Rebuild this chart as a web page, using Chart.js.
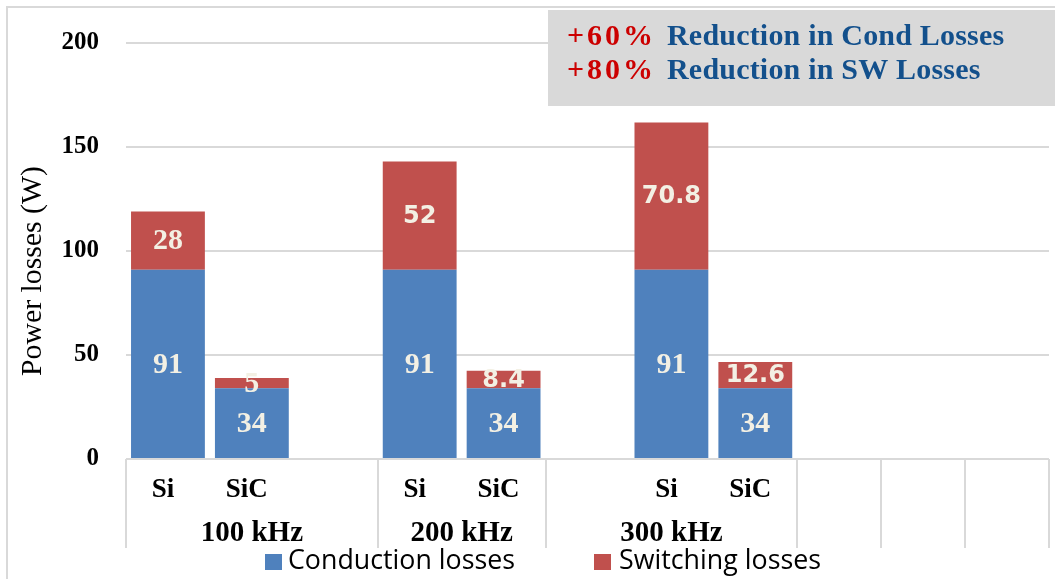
<!DOCTYPE html>
<html>
<head>
<meta charset="utf-8">
<title>Power losses: Si vs SiC</title>
<script src="https://cdn.jsdelivr.net/npm/chart.js@4.4.1/dist/chart.umd.min.js"></script>
<style>
  html, body { margin: 0; padding: 0; background: #ffffff; }
  #wrap { width: 1055px; height: 579px; position: relative; }
</style>
</head>
<body>
<div id="wrap"><canvas id="chart" width="1055" height="579"></canvas></div>
<script>
// Device labels on the inner axis level (empty strings are spacer slots)
const subLabels = ['Si', 'SiC', '', 'Si', 'SiC', '', 'Si', 'SiC', '', '', ''];
// Outer axis level: switching frequency groups and how many slots each spans
const groupLabels = ['100 kHz', '200 kHz', '300 kHz', '', '', ''];
const groupSizes = [3, 2, 3, 1, 1, 1];

const seriesNames = ['Conduction losses', 'Switching losses'];
const conduction = [91, 34, null, 91, 34, null, 91, 34, null, null, null];
const switching  = [28, 5, null, 52, 8.4, null, 70.8, 12.6, null, null, null];

const yTicks = [0, 50, 100, 150, 200];
const yTitle = 'Power losses (W)';

const notes = [
  ['+60%', 'Reduction in Cond Losses'],
  ['+80%', 'Reduction in SW Losses']
];

const COLORS = { cond: '#4f81bd', sw: '#c0504d', grid: '#d9d9d9' };

// Extra drawing: frame, value labels, two-level axis dividers, titles, legend, note box
const decor = {
  id: 'decor',
  beforeDraw(chart) {
    const c = chart.ctx;
    c.save();
    c.strokeStyle = COLORS.grid;
    c.lineWidth = 2;
    c.beginPath();
    c.moveTo(7, 579);
    c.lineTo(7, 7);
    c.lineTo(1055, 7);
    c.stroke();
    c.restore();
  },
  afterDatasetsDraw(chart) {
    const c = chart.ctx;
    c.save();
    c.fillStyle = '#f3f0e4';
    c.textAlign = 'center';
    c.textBaseline = 'middle';
    chart.data.datasets.forEach((ds, di) => {
      const meta = chart.getDatasetMeta(di);
      meta.data.forEach((bar, i) => {
        const v = ds.data[i];
        if (v == null) return;
        const serif = di === 0 || (Number.isInteger(v) && v < 50);
        c.font = serif ? 'bold 30px "Liberation Serif"' : 'bold 24px "DejaVu Sans"';
        c.fillText(String(v), bar.x, (bar.y + bar.base) / 2 + 1);
      });
    });
    c.restore();
  },
  afterDraw(chart) {
    const c = chart.ctx;
    const x = chart.scales.x;
    const area = chart.chartArea;
    c.save();

    // slot boundaries of the outer axis level
    const edges = [0];
    groupSizes.forEach(n => edges.push(edges[edges.length - 1] + n));
    const px = e => x.getPixelForValue(e - 0.5);

    c.strokeStyle = COLORS.grid;
    c.lineWidth = 2;
    edges.forEach(e => {
      const xp = Math.round(px(e));
      c.beginPath();
      c.moveTo(xp, area.bottom);
      c.lineTo(xp, area.bottom + 89);
      c.stroke();
    });

    c.fillStyle = '#000';
    c.textAlign = 'center';
    c.textBaseline = 'middle';
    c.font = 'bold 29px "Liberation Serif"';
    groupLabels.forEach((g, k) => {
      if (!g) return;
      const cx = (px(edges[k]) + px(edges[k + 1])) / 2;
      c.fillText(g, cx, area.bottom + 75);
    });

    // vertical axis title
    c.save();
    c.translate(33, (area.top + area.bottom) / 2 + 20);
    c.rotate(-Math.PI / 2);
    c.font = '30px "Liberation Serif"';
    c.fillText(yTitle, 0, 0, 210);
    c.restore();

    // legend
    const legendItems = [
      { color: COLORS.cond, x: 265, tx: 288, w: 227 },
      { color: COLORS.sw, x: 594, tx: 619, w: 202 }
    ];
    c.textAlign = 'left';
    c.font = '28px "Open Sans"';
    legendItems.forEach((it, k) => {
      c.fillStyle = it.color;
      c.fillRect(it.x, 554, 17, 16);
      c.fillStyle = '#000';
      c.fillText(seriesNames[k], it.tx, 561, it.w);
    });

    // note box
    c.fillStyle = '#d9d9d9';
    c.fillRect(548, 10, 507, 96);
    c.textBaseline = 'alphabetic';
    c.font = 'bold 30px "Liberation Serif"';
    notes.forEach((n, k) => {
      const y = 45 + k * 34;
      c.fillStyle = '#cc0000';
      c.letterSpacing = '3px';
      c.fillText(n[0], 567, y);
      c.letterSpacing = '0.2px';
      c.fillStyle = '#13508c';
      c.fillText(n[1], 667, y);
    });
    c.letterSpacing = '0px';

    c.restore();
  }
};

new Chart(document.getElementById('chart'), {
  type: 'bar',
  data: {
    labels: subLabels,
    datasets: [
      { label: seriesNames[0], data: conduction, backgroundColor: COLORS.cond },
      { label: seriesNames[1], data: switching, backgroundColor: COLORS.sw }
    ]
  },
  options: {
    responsive: false,
    animation: false,
    layout: { padding: { left: 0, top: 43, right: 6, bottom: 0 } },
    datasets: { bar: { barPercentage: 0.88, categoryPercentage: 1 } },
    plugins: {
      legend: { display: false },
      tooltip: { enabled: false }
    },
    scales: {
      x: {
        stacked: true,
        offset: true,
        grid: { display: false },
        border: { display: false },
        ticks: {
          autoSkip: false,
          maxRotation: 0,
          padding: 7,
          labelOffset: -5,
          color: '#000',
          font: { family: 'Liberation Serif', weight: 'bold', size: 27 }
        },
        afterFit(s) { s.height = 120; }
      },
      y: {
        stacked: true,
        min: 0,
        max: 200,
        afterBuildTicks(s) { s.ticks = yTicks.map(v => ({ value: v })); },
        grid: { color: COLORS.grid, lineWidth: 2, drawTicks: false },
        border: { display: false },
        ticks: {
          padding: 27,
          color: '#000',
          font: { family: 'Liberation Serif', weight: 'bold', size: 25 }
        },
        afterFit(s) { s.width = 126; }
      }
    }
  },
  plugins: [decor]
});
</script>
</body>
</html>
